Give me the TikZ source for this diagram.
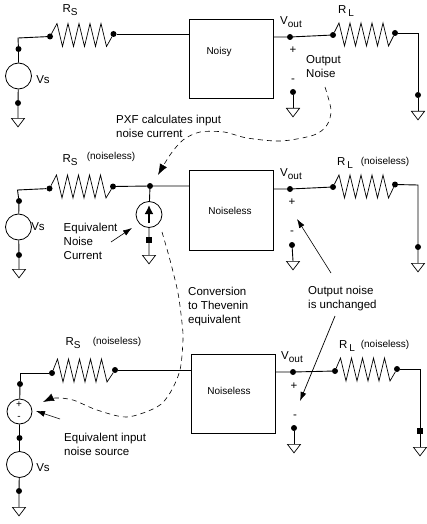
\documentclass[tikz,border=0pt]{standalone}
\usepackage{fontspec}
\setmainfont{Liberation Sans}
\usepackage{xcolor}
\usepackage{tikz}
\usetikzlibrary{arrows.meta, shapes.geometric}
\newcommand{\lowtxt}[1]{\raisebox{-2.5pt}{\fontsize{10}{10}\selectfont #1}}
\newcommand{\zigs}{-- ++(5.5,23) -- ++(5.5,-23) -- ++(5.5,23) -- ++(5.5,-23) -- ++(5.5,23) -- ++(5.5,-23) -- ++(5.5,23) -- ++(5.5,-23) -- ++(5.5,23)}
\tikzset{
    wire/.style={line width=0.9pt},
    zig/.style={line width=0.7pt, line join=miter},
    blk/.style={rectangle, draw, line width=0.9pt, inner sep=0pt},
    src/.style={circle, draw, line width=0.8pt, inner sep=0pt, minimum size=#1},
    src/.default=26pt,
    dotn/.style={circle, fill=black, inner sep=0pt, minimum size=6pt},
    sqdot/.style={rectangle, fill=black, inner sep=0pt, minimum size=5.5pt},
    gnd/.style={isosceles triangle, isosceles triangle apex angle=72, isosceles triangle stretches,
                shape border rotate=-90, draw, line width=0.7pt, inner sep=0pt,
                minimum width=13pt, minimum height=8.5pt, anchor=lower side},
    lbl/.style={font=\fontsize{11.5}{14}\selectfont, inner sep=0pt, align=left},
    tiny/.style={font=\fontsize{10}{12}\selectfont, inner sep=0pt},
    dflow/.style={-{Latex[length=11pt, width=8pt]}, line width=0.6pt, dash pattern=on 5pt off 4pt},
    flow/.style={-{Latex[length=9pt, width=6pt]}, line width=0.6pt}
}
\begin{document}
\begin{tikzpicture}[x=1pt, y=-1pt]
    \useasboundingbox (0,0) rectangle (427,524);
    % dots
    \foreach \nm/\xx/\yy in {a1/18.5/49, a2/18/103, a3/50/36.5, a4/113.5/34, a5/290/37, a6/333/35, a7/395/33, a8/293/92, a9/418/95,
        b1/19/201, b2/19/255, b3/49.5/188.5, b4/113/186.5, b5/150/186, b7/290/189, b8/333/187, b9/395/184.5, b10/292/245, b11/418/247,
        c1/20/384, c2/19.5/438, c3/19/491, c4/52/373, c5/115/370, c6/293/372, c7/335/371, c8/397/369, c9/294/428} {
        \node[dotn] (\nm) at (\xx,\yy) {};
    }
    \node[sqdot] (b6) at (149,240) {};
    \node[sqdot] (c10) at (420,431) {};
    % corners and free ends
    \foreach \nm/\xx/\yy in {ca/18/38, cb/17.5/190, cc/20/373, ra/418/33, rb/418/185, rc/420/369,
        na/325/87, nb/190/135, nc/158/175, pa/162/232, pb/43/402, qa/111/242, qb/132/228,
        ea/60/419, eb/36/411, ua/331/273, ub/297/219, va/335/316, vb/300/401, ca2/149/205, cb2/149/223} {
        \coordinate (\nm) at (\xx,\yy);
    }
    % blocks
    \node[blk, minimum width=84pt, minimum height=79.5pt] (boxA) at (231.5,59) {};
    \node[blk, minimum width=84pt, minimum height=80pt] (boxB) at (231.5,210) {};
    \node[blk, minimum width=84pt, minimum height=79pt] (boxC) at (233.5,393.5) {};
    \node[tiny] (nsy) at (219,52) {Noisy};
    \node[tiny] (nlB) at (230,211) {Noiseless};
    \node[tiny] (nlC) at (229,391) {Noiseless};
    % sources
    \node[src] (vsA) at (18.5,76) {};
    \node[src] (vsB) at (18.5,227) {};
    \node[src] (isB) at (149,214.5) {};
    \node[src=25pt] (enC) at (19.5,411.5) {};
    \node[src] (vsC) at (19.5,464.5) {};
    % grounds
    \foreach \nm/\xx/\yy in {gA1/18/118, gA2/293/108, gA3/418/111, gB1/19/269, gB2/149/255, gB3/293/261, gB4/418/263, gC1/19/507, gC2/294/444, gC3/420/447} {
        \node[gnd] (\nm) at (\xx,\yy) {};
    }
    % first row
    \draw[wire] (a1) -- (vsA) (vsA) -- (a2) -- (gA1.lower side);
    \draw[wire] (a1) -- (ca) -- (a3);
    \draw[zig] (a3) -- ++(7,-13) \zigs -- (a4);
    \draw[wire] (a4) -- (a4 -| boxA.west);
    \draw[wire] (boxA.east |- a5) -- (a5) -- (a6);
    \draw[zig] (a6) -- ++(6,-12) \zigs -- (a7);
    \draw[wire] (a7) -- (ra) -- (a9) -- (gA3.lower side);
    \draw[wire] (a8) -- (gA2.lower side);
    % second row
    \draw[wire] (b1) -- (vsB) (vsB) -- (b2) -- (gB1.lower side);
    \draw[wire] (b1) -- (cb) -- (b3);
    \draw[zig] (b3) -- ++(7,-13.5) \zigs -- (b4);
    \draw[wire] (b4) -- (b5) -- (b5 -| boxB.west);
    \draw[wire] (b5) -- (isB) (isB) -- (b6) -- (gB2.lower side);
    \draw[-{Latex[length=9pt, width=9pt]}, line width=2.6pt] (cb2) -- (ca2);
    \draw[wire] (boxB.east |- b7) -- (b7) -- (b8);
    \draw[zig] (b8) -- ++(6,-12) \zigs -- (b9);
    \draw[wire] (b9) -- (rb) -- (b11) -- (gB4.lower side);
    \draw[wire] (b10) -- (gB3.lower side);
    % third row
    \draw[wire] (c1) -- (enC) (enC) -- (c2) -- (vsC) (vsC) -- (c3) -- (gC1.lower side);
    \draw[wire] (c1) -- (cc) -- (c4);
    \draw[zig] (c4) -- ++(5.5,-14) \zigs -- (c5);
    \draw[wire] (c5) -- (c5 -| boxC.west);
    \draw[wire] (boxC.east |- c6) -- (c6) -- (c7);
    \draw[zig] (c7) -- ++(5.5,-13) \zigs -- (c8);
    \draw[wire] (c8) -- (rc) -- (c10) -- (gC3.lower side);
    \draw[wire] (c9) -- (gC2.lower side);
    % notes
    \draw[dflow] plot[smooth] coordinates {(na) (331,110) (327,125) (314,135) (281,141) (247,138) (224,132)
        (200,132) (183,140) (170,155) (nc)};
    \draw[dflow] plot[smooth] coordinates {(pa) (170,260) (178,293) (182,323) (183,340) (180,370) (170,393)
        (157,407) (127,417) (97,410) (73,400) (55,398) (pb)};
    \draw[flow] (qa) -- (qb);
    \draw[flow] (ea) -- (eb);
    \draw[flow] (ua) -- (ub);
    \draw[flow, line width=0.7pt] (va) -- (vb);
    % labels
    \foreach \nm/\xx/\yy/\lab in {rsA/70/10/R\lowtxt{S}, rlA/346/11/R\,\lowtxt{L}, rsB/70/160/R\lowtxt{S}, rlB/345/163/R\,\lowtxt{L}, rsC/73/343/R\lowtxt{S}, rlC/347/346/R\,\lowtxt{L},
        voA/291/22/V\lowtxt{out}, voB/291/174/V\lowtxt{out}, voC/292/357/V\lowtxt{out},
        vlA/43/80/Vs, vlB/38/227/Vs, vlC/43/468/Vs, ppA/293/50/+, mmA/293/81/-, ppB/292/202/+, mmB/292/233/-, ppC/294/386/+, mmC/295/417/-} {
        \node[lbl] (\nm) at (\xx,\yy) {\lab};
    }
    \node[tiny] (qsB) at (111,157) {(noiseless)};
    \node[tiny] (qlB) at (385,162) {(noiseless)};
    \node[tiny] (qsC) at (117,342) {(noiseless)};
    \node[tiny] (qlC) at (385,345) {(noiseless)};
    \node[tiny] (pC) at (19,405) {+};
    \node[tiny] (mC) at (19,418) {-};
    \node[lbl, anchor=west] (outN) at (306,67) {Output\\Noise};
    \node[lbl, anchor=west] (pxf) at (116,126) {PXF calculates input\\noise current};
    \node[lbl, anchor=west] (eqN) at (63.5,241) {Equivalent\\Noise\\Current};
    \node[lbl, anchor=west] (conv) at (188,307) {Conversion\\to Thevenin\\equivalent};
    \node[lbl, anchor=west] (unch) at (308,299) {Output noise\\is unchanged};
    \node[lbl, anchor=west] (eqI) at (64,444.5) {Equivalent input\\noise source};
\end{tikzpicture}
\end{document}
